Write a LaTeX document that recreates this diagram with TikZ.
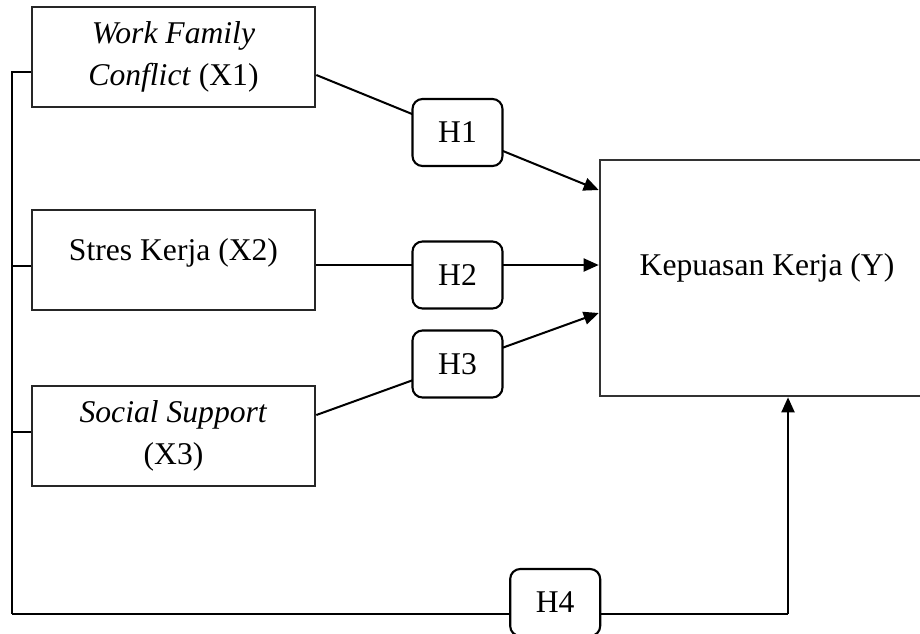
\documentclass[tikz,border=0pt]{standalone}
\usepackage{fontspec}
\setmainfont{Liberation Serif}
\usetikzlibrary{arrows.meta, positioning, calc}
\tikzset{
    var_box/.style={
        rectangle, draw=black!85, line width=1.5pt,
        minimum width=5.66cm, minimum height=2.0cm,
        align=center, inner sep=2pt
    },
    dep_box/.style={
        rectangle, draw=black!80, line width=1.5pt,
        minimum width=6.68cm, minimum height=4.72cm,
        align=center
    },
    hyp_box/.style={
        rectangle, rounded corners=0.2cm, draw=black, line width=1.2pt, fill=white,
        minimum width=1.8cm, minimum height=1.34cm,
        align=center, inner sep=2pt
    },
    path_arrow/.style={
        -{Triangle[length=0.3cm, width=0.26cm]}, line width=1.15pt, draw=black
    },
    bus_line/.style={
        draw=black, line width=0.6pt
    }
}

\begin{document}
\begin{tikzpicture}[font=\fontsize{18}{24}\selectfont]

    \useasboundingbox (0,0) rectangle (18.4,-12.66);

    % --- independent variables (left column) ---
    \node[var_box] (x1) at (3.47, -1.14) {\textit{Work Family}\\\textit{Conflict} (X1)};
    \node[var_box] (x2) at (3.47, -5.2) {Stres Kerja (X2)\\[-12pt]\mbox{}};
    \node[var_box] (x3) at (3.47, -8.72) {\textit{Social Support}\\(X3)};

    % --- dependent variable ---
    \node[dep_box] (y) at (15.34, -5.56) {Kepuasan Kerja (Y)\\[-9pt]\mbox{}};

    % --- partial hypotheses H1 - H3 ---
    \draw[path_arrow] ([yshift=-0.36cm]x1.east) -- node[hyp_box] (h1) {H1} ([yshift=1.76cm]y.west);
    \draw[path_arrow] ([yshift=-0.1cm]x2.east) -- node[hyp_box, yshift=-0.2cm] (h2) {H2} ([yshift=0.26cm]y.west);
    \draw[path_arrow] ([yshift=0.42cm]x3.east) -- node[hyp_box] (h3) {H3} ([yshift=-0.7cm]y.west);

    % --- simultaneous hypothesis H4 ---
    \coordinate (bus) at (0.24, -12.28);
    \coordinate (turn) at ([xshift=0.42cm]y.south |- bus);
    \draw[bus_line] ([yshift=-0.3cm]x1.west) -- ++(-0.4,0);
    \draw[bus_line] ([yshift=-0.12cm]x2.west) -- ++(-0.4,0);
    \draw[bus_line] ([yshift=0.08cm]x3.west) -- ++(-0.4,0);
    \draw[line width=1pt] ([yshift=-0.3cm]x1.west -| bus) -- (bus);
    \draw[bus_line] (bus) -- node[hyp_box, pos=0.7, yshift=0.23cm] (h4) {H4} (turn);
    \draw[path_arrow] (turn) -- ([xshift=0.42cm]y.south);

\end{tikzpicture}
\end{document}
